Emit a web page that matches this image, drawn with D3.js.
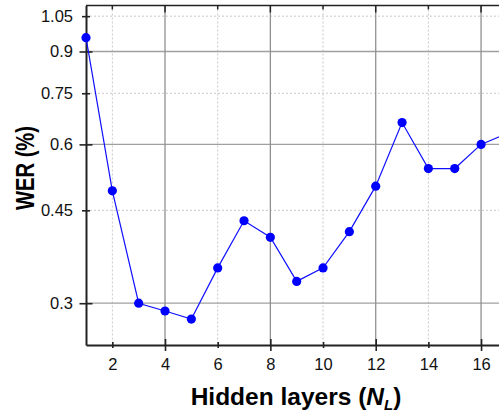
<!DOCTYPE html>
<html><head><meta charset="utf-8">
<script src="https://cdn.jsdelivr.net/npm/d3@7/dist/d3.min.js"></script>
<style>
html,body{margin:0;padding:0;background:#fff;overflow:hidden}
svg{display:block;font-family:"Liberation Sans",Arial,sans-serif}
</style></head><body>
<svg id="c" width="499" height="414"></svg>
<script>
const layers = [1,2,3,4,5,6,7,8,9,10,11,12,13,14,15,16,17];
const wer = [0.956,0.49,0.30,0.29,0.28,0.35,0.43,0.40,0.33,0.35,0.41,0.50,0.66,0.54,0.54,0.60,0.63];
const yMajor = [0.3,0.6,0.9];
const yMinor = [0.45,0.75,1.05];
const yTicks = [0.3,0.45,0.6,0.75,0.9,1.05];
const xMajor = [4,8,12,16];
const xMinor = [2,6,10,14];
const xTicks = [2,4,6,8,10,12,14,16];

const svg = d3.select("#c");
const L = 86, R = 507.4, T = 5.5, B = 345;
const x = d3.scaleLinear().domain([1,17]).range([L,R]);
const y = d3.scaleLog().domain([0.25,1.1]).range([B,T]);
const isMajY = d => yMajor.includes(d);
const isMajX = d => xMajor.includes(d);

const g = svg.append("g");
// minor grid
g.selectAll(".ymin").data(yMinor).join("line")
  .attr("x1",L).attr("x2",R).attr("y1",d=>y(d)).attr("y2",d=>y(d))
  .attr("stroke","#c8c8c8").attr("stroke-width",1).attr("stroke-dasharray","2,2");
g.selectAll(".xmin").data(xMinor).join("line")
  .attr("x1",d=>x(d)).attr("x2",d=>x(d)).attr("y1",T).attr("y2",B)
  .attr("stroke","#c8c8c8").attr("stroke-width",1).attr("stroke-dasharray","2,2");
// major grid
g.selectAll(".ymaj").data(yMajor).join("line")
  .attr("x1",L).attr("x2",R).attr("y1",d=>y(d)).attr("y2",d=>y(d))
  .attr("stroke","#a0a0a0").attr("stroke-width",1.3);
g.selectAll(".xmaj").data(xMajor).join("line")
  .attr("x1",d=>x(d)).attr("x2",d=>x(d)).attr("y1",T).attr("y2",B)
  .attr("stroke","#909090").attr("stroke-width",1.3);

// frame
svg.append("line").attr("x1",L).attr("x2",R).attr("y1",T).attr("y2",T).attr("stroke","#222").attr("stroke-width",1.5);
// top inward ticks
svg.selectAll(".tt").data(xTicks).join("line")
  .attr("x1",d=>x(d)).attr("x2",d=>x(d)).attr("y1",T).attr("y2",d=>T+(isMajX(d)?7:4))
  .attr("stroke","#222").attr("stroke-width",1.5);

// axes
const yAxis = d3.axisLeft(y).tickValues(yTicks).tickFormat(d=>String(d)).tickSizeInner(4).tickSizeOuter(0).tickPadding(5);
const ya = svg.append("g").attr("transform",`translate(${L},0)`).call(yAxis);
ya.select(".domain").attr("stroke","#222").attr("stroke-width",2);
ya.selectAll(".tick line").attr("x1",d=>isMajY(d)?-6.5:-4).attr("x2",d=>isMajY(d)?6.5:4).attr("stroke","#222").attr("stroke-width",1.6);
ya.selectAll(".tick text").attr("font-size",16.5).attr("font-family","Liberation Sans, Arial, sans-serif").attr("fill","#111").attr("x",-13);

const xAxis = d3.axisBottom(x).tickValues(xTicks).tickSizeInner(4).tickSizeOuter(0).tickPadding(10);
const xa = svg.append("g").attr("transform",`translate(0,${B})`).call(xAxis);
xa.select(".domain").attr("stroke","#222").attr("stroke-width",2);
xa.selectAll(".tick line").attr("y1",d=>isMajX(d)?-6:-3).attr("y2",d=>isMajX(d)?6:3).attr("stroke","#222").attr("stroke-width",1.6);
xa.selectAll(".tick text").attr("font-size",16.5).attr("font-family","Liberation Sans, Arial, sans-serif").attr("fill","#111").attr("y",13.3);

// data
const line = d3.line().x((d,i)=>x(layers[i])).y(d=>y(d));
svg.append("path").datum(wer).attr("d",line).attr("fill","none").attr("stroke","#1010ff").attr("stroke-width",1.2);
svg.selectAll(".pt").data(wer).join("circle")
  .attr("cx",(d,i)=>x(layers[i])).attr("cy",d=>y(d)).attr("r",4.6).attr("fill","#0000ff");

// labels
svg.append("text").attr("transform","translate(34,168) rotate(-90)")
  .attr("text-anchor","middle").attr("font-size",26).attr("font-weight","bold").attr("fill","#000")
  .attr("textLength",84).attr("lengthAdjust","spacingAndGlyphs")
  .text("WER (%)");
const xl = svg.append("text").attr("x",296).attr("y",405).attr("text-anchor","middle")
  .attr("font-size",24.5).attr("font-weight","bold").attr("fill","#000");
xl.append("tspan").text("Hidden layers (");
xl.append("tspan").attr("font-style","italic").text("N");
xl.append("tspan").attr("font-style","italic").attr("font-size",15).attr("dy",5).text("L");
xl.append("tspan").attr("dy",-5).text(")");
</script>
</body></html>
